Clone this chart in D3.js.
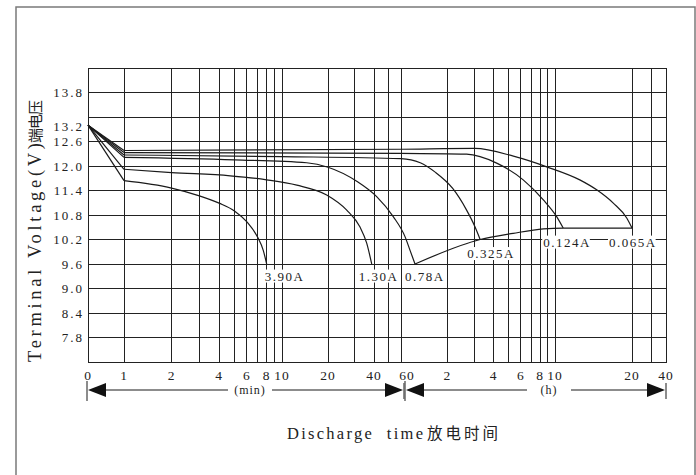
<!DOCTYPE html>
<html>
<head>
<meta charset="utf-8">
<title>Discharge characteristics</title>
<script src="https://d3js.org/d3.v7.min.js"></script>
<style>
  body { margin: 0; background: #fff; }
  text { font-family: "Liberation Serif", serif; fill: #222; }
  .cjk { font-family: "Noto Sans CJK SC", sans-serif; }
</style>
</head>
<body>
<div id="chart"></div>
<script>
// y axis (volts)
var voltTicks = [7.8, 8.4, 9.0, 9.6, 10.2, 10.8, 11.4, 12.0, 12.6, 13.2, 13.8];
var voltLabels = ["7.8", "8.4", "9.0", "9.6", "10.2", "10.8", "11.4", "12.0", "12.6", "13.2", "13.8"];

// x axis: minutes first, then hours
var minuteGrid = [1, 2, 3, 4, 5, 6, 7, 8, 9, 10, 20, 30, 40, 50, 60];
var hourGrid = [2, 3, 4, 5, 6, 7, 8, 9, 10, 20, 30, 40];
var minuteLabels = [0, 1, 2, 4, 6, 8, 10, 20, 40, 60];
var hourLabels = [2, 4, 6, 8, 10, 20, 40];

var currents = ["3.90A", "1.30A", "0.78A", "0.325A", "0.124A", "0.065A"];

// [time in minutes, volts]
var curve390 = [[0, 13.0], [1, 11.64], [2, 11.46], [3, 11.27], [4, 11.09], [5, 10.9], [6, 10.63], [7, 10.26], [7.6, 9.94], [8, 9.6]];
var curve130 = [[0, 13.0], [1, 11.92], [2, 11.84], [4.7, 11.76], [8, 11.66], [12.5, 11.53], [19.6, 11.29], [26.5, 10.92], [32.3, 10.51], [35.8, 10.11], [38.6, 9.6]];
var curve078 = [[0, 13.0], [1, 12.21], [5, 12.15], [14.5, 12.08], [20, 11.97], [31, 11.62], [41.6, 11.25], [53.4, 10.76], [63.7, 10.27], [68.6, 9.94], [74, 9.6]];
var curve0325 = [[0, 13.0], [1, 12.27], [10, 12.23], [60, 12.18], [80, 12.08], [100, 11.85], [130, 11.45], [160, 10.92], [181, 10.52], [196, 10.2]];
var curve0124 = [[0, 13.0], [1, 12.33], [60, 12.31], [160, 12.29], [251, 12.07], [373, 11.66], [504, 11.17], [609, 10.76], [646, 10.48]];
var curve0065 = [[0, 13.0], [1, 12.38], [60, 12.41], [181, 12.43], [322, 12.24], [530, 11.98], [750, 11.66], [876, 11.41], [1014, 11.09], [1146, 10.72], [1200, 10.48]];
var endVoltage = [[74, 9.6], [196, 10.2], [321, 10.35], [504, 10.46], [646, 10.48], [1200, 10.48]];

var curves = [curve390, curve130, curve078, curve0325, curve0124, curve0065];

var margin = { top: 68, left: 88 },
  width = 578,
  height = 294;

var svg = d3.select("#chart").append("svg")
  .attr("width", 696).attr("height", 475);

// outer frame
svg.append("rect")
  .attr("x", 16).attr("y", 7).attr("width", 679).attr("height", 480)
  .attr("fill", "none").attr("stroke", "#7a7a7a").attr("stroke-width", 1.5);

var g = svg.append("g").attr("transform", "translate(" + margin.left + "," + margin.top + ")");

// piecewise log scale in minutes (chart switches to hours at 60 min)
var x = d3.scaleLog()
  .domain([1, 10, 60, 600, 1200, 1800, 2400])
  .range([36, 194, 313, 467, 544, 563, 578]);
var y = d3.scaleLinear().domain([7.2, 14.4]).range([height, 0]);

function xPos(t) { return t <= 0 ? 0 : x(t); }

// grid
var grid = g.append("g").attr("stroke", "#222").attr("stroke-width", 1).attr("shape-rendering", "crispEdges");
grid.selectAll(".h").data(voltTicks).enter().append("line")
  .attr("x1", 0).attr("x2", width)
  .attr("y1", d => y(d)).attr("y2", d => y(d));
var vTimes = minuteGrid.concat(hourGrid.map(h => h * 60));
grid.selectAll(".v").data(vTimes).enter().append("line")
  .attr("y1", 0).attr("y2", height)
  .attr("x1", d => x(d)).attr("x2", d => x(d));
grid.append("rect").attr("width", width).attr("height", height).attr("fill", "none");

// y tick labels
g.selectAll(".ylab").data(voltTicks).enter().append("text")
  .attr("x", -4)
  .attr("y", (d, i) => y(d) + (voltLabels[i] === "13.2" ? 9 : 0))
  .attr("dy", "0.35em")
  .attr("text-anchor", "end")
  .attr("font-size", 13).attr("letter-spacing", 2)
  .text((d, i) => voltLabels[i]);

// x tick labels
g.selectAll(".xm").data(minuteLabels).enter().append("text")
  .attr("x", d => xPos(d) + (d === 60 ? 6 : 0))
  .attr("y", height + 18)
  .attr("text-anchor", "middle")
  .attr("font-size", 13.5).attr("letter-spacing", 1)
  .text(d => d);
g.selectAll(".xh").data(hourLabels).enter().append("text")
  .attr("x", d => x(d * 60))
  .attr("y", height + 18)
  .attr("text-anchor", "middle")
  .attr("font-size", 13.5).attr("letter-spacing", 1)
  .text(d => d);

// unit arrows under the axis
var ay = height + 28;
var mid = x(60) + 3;
var arrows = g.append("g").attr("stroke", "#666").attr("stroke-width", 1.5);
[[0 - 1, mid, "(min)", 162], [mid + 1, width, "(h)", 461]].forEach(function (s) {
  var a = s[0], b = s[1];
  arrows.append("line").attr("x1", a).attr("x2", a).attr("y1", ay - 9).attr("y2", ay + 11);
  arrows.append("line").attr("x1", b).attr("x2", b).attr("y1", ay - 7).attr("y2", ay + 9);
  var tx = s[3];
  arrows.append("line").attr("x1", a + 18).attr("x2", tx - 22).attr("y1", ay).attr("y2", ay);
  arrows.append("line").attr("x1", tx + 22).attr("x2", b - 18).attr("y1", ay).attr("y2", ay);
  g.append("path").attr("d", "M" + (a + 1) + "," + ay + "L" + (a + 19) + "," + (ay - 7) + "L" + (a + 19) + "," + (ay + 7) + "Z").attr("fill", "#111");
  g.append("path").attr("d", "M" + (b - 1) + "," + ay + "L" + (b - 19) + "," + (ay - 7) + "L" + (b - 19) + "," + (ay + 7) + "Z").attr("fill", "#111");
  g.append("text").attr("x", tx).attr("y", ay + 4).attr("text-anchor", "middle")
    .attr("font-size", 12).attr("letter-spacing", 1).attr("fill", "#444").text(s[2]);
});

// curves
var line = d3.line().x(d => xPos(d[0])).y(d => y(d[1])).curve(d3.curveMonotoneX);
var straight = d3.line().x(d => xPos(d[0])).y(d => y(d[1]));
var cg = g.append("g").attr("fill", "none").attr("stroke", "#1a1a1a").attr("stroke-width", 1.2);
curves.forEach(function (c) {
  cg.append("path").attr("d", straight(c.slice(0, 2)));
  cg.append("path").attr("d", line(c.slice(1)));
});
cg.append("path").attr("d", line(endVoltage));

// current labels with white background
var labelOffsets = [[-2, 12], [-13, 12], [-10, 12], [-13, 14], [-20, 14], [-23, 14]];
currents.forEach(function (name, i) {
  var end = curves[i][curves[i].length - 1];
  var lx = xPos(end[0]) + labelOffsets[i][0], ly = y(end[1]) + labelOffsets[i][1];
  var bg = g.append("rect").attr("fill", "#fff");
  var t = g.append("text").attr("x", lx).attr("y", ly).attr("dy", "0.35em")
    .attr("font-size", 13).attr("letter-spacing", 1.5).text(name);
  var bb = t.node().getBBox();
  bg.attr("x", bb.x - 1).attr("y", bb.y + 1).attr("width", bb.width).attr("height", bb.height - 2);
});

// axis titles
svg.append("text")
  .attr("transform", "translate(41,362) rotate(-90)")
  .attr("font-size", 18.5).attr("textLength", 219).attr("lengthAdjust", "spacing")
  .text("Terminal Voltage(V)");
svg.append("text").attr("class", "cjk")
  .attr("transform", "translate(41,143) rotate(-90)")
  .attr("font-size", 15).attr("textLength", 43)
  .text("端电压");

svg.append("text")
  .attr("x", 287).attr("y", 439).attr("font-size", 16.5)
  .attr("textLength", 136).attr("lengthAdjust", "spacing").style("white-space", "pre")
  .text("Discharge  time");
svg.append("text").attr("class", "cjk")
  .attr("x", 427).attr("y", 439).attr("font-size", 15.5)
  .attr("textLength", 71)
  .text("放电时间");
</script>
</body>
</html>
